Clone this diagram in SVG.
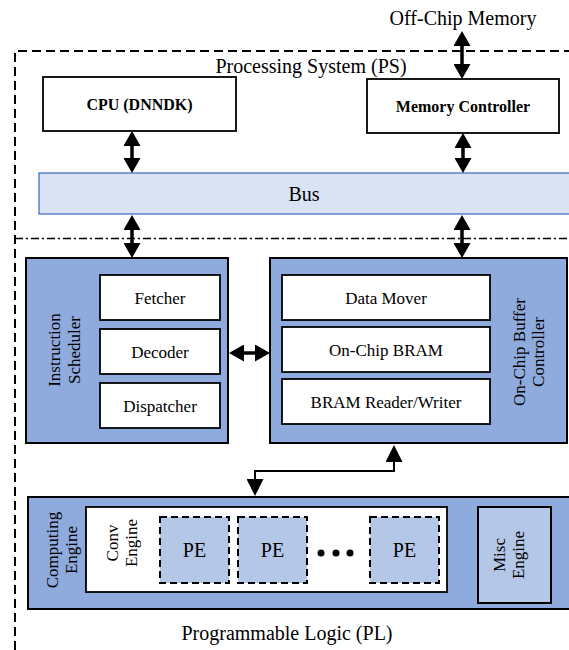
<svg xmlns="http://www.w3.org/2000/svg" width="569" height="650" viewBox="0 0 569 650">
<defs>
<style>
text{font-family:"Liberation Serif","Times New Roman",serif;fill:#000}
.lbl{font-size:20px;text-anchor:middle}
.sm{font-size:17px;text-anchor:middle}
.bold{font-size:16px;font-weight:bold;text-anchor:middle}
.pe{font-size:20px;text-anchor:middle}
.wbox{fill:#fff;stroke:#000;stroke-width:1.8}
.blue{fill:#8faadc;stroke:#000;stroke-width:2}
.light{fill:#b4c7e7;stroke:#000;stroke-width:2}
.arr{stroke:#000;stroke-width:3.5;fill:none;marker-start:url(#ah);marker-end:url(#ah)}
.arr2{stroke:#000;stroke-width:2;fill:none;marker-start:url(#ah2);marker-end:url(#ah2)}
</style>
<marker id="ah" markerUnits="userSpaceOnUse" markerWidth="16" markerHeight="17" viewBox="0 0 16 17" refX="5" refY="8.5" orient="auto-start-reverse">
<path d="M0,0 L15,8.5 L0,17 z" fill="#000"/>
</marker>
<marker id="ah2" markerUnits="userSpaceOnUse" markerWidth="18" markerHeight="17" viewBox="0 0 18 17" refX="7" refY="8.5" orient="auto-start-reverse">
<path d="M0,0 L17,8.5 L0,17 z" fill="#000"/>
</marker>
</defs>
<rect width="569" height="650" fill="#fff"/>

<g id="regions">
<path d="M15,650 L15,51 L569,51" fill="none" stroke="#000" stroke-width="2" stroke-dasharray="9,5"/>
<line x1="15" y1="238.5" x2="569" y2="238.5" stroke="#000" stroke-width="1.3" stroke-dasharray="8,3,2,3"/>
<text class="lbl" x="463" y="25">Off-Chip Memory</text>
<text class="lbl" x="311" y="73">Processing System (PS)</text>
<text class="lbl" x="287" y="640">Programmable Logic (PL)</text>
</g>

<g id="cpu">
<rect x="43" y="77" width="193" height="54" class="wbox" stroke-width="2"/>
<text class="bold" x="139.5" y="109.5">CPU (DNNDK)</text>
</g>

<g id="memctrl">
<rect x="367" y="79" width="192" height="54" class="wbox" stroke-width="2"/>
<text class="bold" x="463" y="111.5">Memory Controller</text>
</g>

<g id="bus">
<rect x="39" y="173" width="540" height="41" fill="#dae3f3" stroke="#4472c4" stroke-width="1.3"/>
<text class="lbl" x="304" y="201">Bus</text>
</g>

<g id="scheduler">
<rect x="26" y="258" width="202" height="185" class="blue"/>
<text class="sm" transform="translate(60,350) rotate(-90)">Instruction</text>
<text class="sm" transform="translate(80,350) rotate(-90)">Scheduler</text>
<g id="fetcher"><rect x="100" y="275" width="120" height="45" class="wbox"/><text class="sm" x="160" y="303.5">Fetcher</text></g>
<g id="decoder"><rect x="100" y="329" width="120" height="45" class="wbox"/><text class="sm" x="160" y="357.5">Decoder</text></g>
<g id="dispatcher"><rect x="100" y="383" width="120" height="45" class="wbox"/><text class="sm" x="160" y="411.5">Dispatcher</text></g>
</g>

<g id="buffer">
<rect x="270" y="258" width="297" height="185" class="blue"/>
<text class="sm" transform="translate(525,352) rotate(-90)">On-Chip Buffer</text>
<text class="sm" transform="translate(544,352) rotate(-90)">Controller</text>
<g id="datamover"><rect x="282" y="275" width="208" height="45" class="wbox"/><text class="sm" x="386" y="303.5">Data Mover</text></g>
<g id="bram"><rect x="282" y="327" width="208" height="45" class="wbox"/><text class="sm" x="386" y="355.5">On-Chip BRAM</text></g>
<g id="bramrw"><rect x="282" y="379" width="208" height="45" class="wbox"/><text class="sm" x="386" y="407.5">BRAM Reader/Writer</text></g>
</g>

<g id="computing">
<rect x="28" y="497" width="560" height="112" class="blue" stroke-width="1.5"/>
<text class="sm" transform="translate(58,550) rotate(-90)">Computing</text>
<text class="sm" transform="translate(77,550) rotate(-90)">Engine</text>
<g id="conv">
<rect x="86" y="507" width="361" height="85" class="wbox" stroke-width="2"/>
<text class="sm" transform="translate(118,543) rotate(-90)">Conv</text>
<text class="sm" transform="translate(137,543) rotate(-90)">Engine</text>
<g id="pe1"><rect x="160" y="517" width="69" height="66" fill="#b4c7e7" stroke="#000" stroke-width="2" stroke-dasharray="7,4"/><text class="pe" x="194.5" y="557">PE</text></g>
<g id="pe2"><rect x="238" y="517" width="69" height="66" fill="#b4c7e7" stroke="#000" stroke-width="2" stroke-dasharray="7,4"/><text class="pe" x="272.5" y="557">PE</text></g>
<circle cx="321" cy="553" r="3.5" fill="#000"/>
<circle cx="336" cy="553" r="3.5" fill="#000"/>
<circle cx="350" cy="553" r="3.5" fill="#000"/>
<g id="pe3"><rect x="370" y="517" width="69" height="66" fill="#b4c7e7" stroke="#000" stroke-width="2" stroke-dasharray="7,4"/><text class="pe" x="404.5" y="557">PE</text></g>
</g>
<g id="misc">
<rect x="478" y="507" width="73" height="96" class="light"/>
<text class="sm" transform="translate(505,555) rotate(-90)">Misc</text>
<text class="sm" transform="translate(524,555) rotate(-90)">Engine</text>
</g>
</g>

<g id="connectors">
<line x1="462" y1="41" x2="462" y2="69" class="arr"/>
<line x1="132" y1="141" x2="132" y2="163" class="arr"/>
<line x1="463" y1="143" x2="463" y2="163" class="arr"/>
<line x1="132" y1="225" x2="132" y2="248" class="arr"/>
<line x1="462" y1="225" x2="462" y2="248" class="arr"/>
<line x1="239" y1="353" x2="260" y2="353" class="arr"/>
<path d="M255,486 L255,471 L394,471 L394,455" class="arr2"/>
</g>
</svg>
